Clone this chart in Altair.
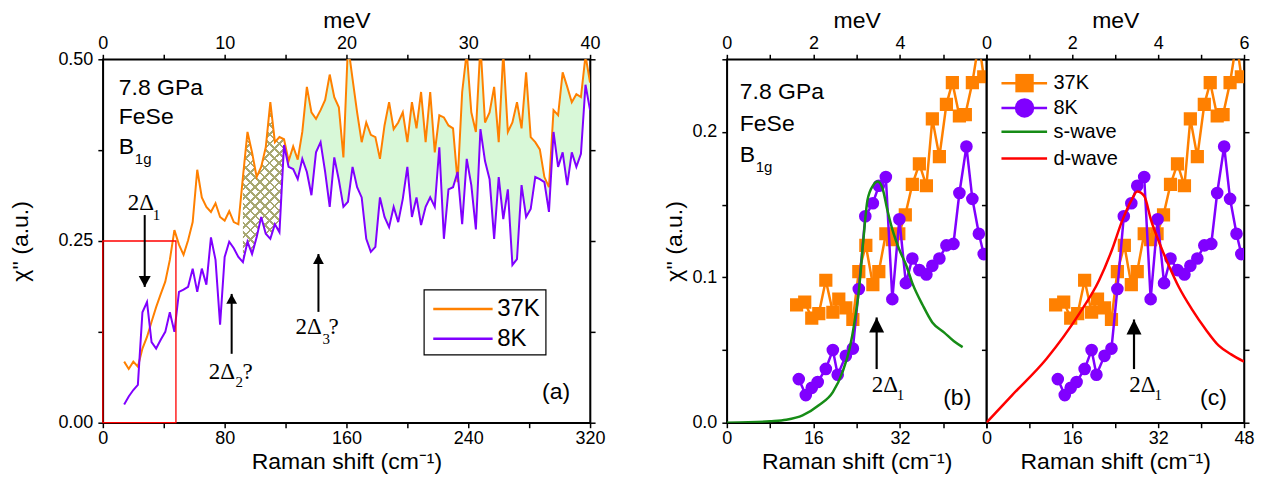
import altair as alt
import pandas as pd

SANS = "Liberation Sans"
SERIF = "Liberation Serif"
ORANGE = "#ff8000"
PURPLE = "#8000ff"
GREEN_FILL = "#d8f8d8"
HATCH = "#a8a872"
SWAVE = "#168c16"
DWAVE = "#ff0000"

# ---------------- panel (a) data ----------------
a_raman = list(range(14, 321, 3))
a_37K = [0.084, 0.074, 0.084, 0.077, 0.102, 0.118, 0.139, 0.159, 0.177, 0.194,
         0.224, 0.265, 0.245, 0.231, 0.251, 0.276, 0.348, 0.310, 0.297, 0.290,
         0.302, 0.283, 0.278, 0.291, 0.276, 0.273, 0.338, 0.400, 0.372, 0.338,
         0.352, 0.379, 0.441, 0.386, 0.393, 0.390, 0.360, 0.380, 0.362, 0.400,
         0.462, 0.427, 0.418, 0.430, 0.444, 0.479, 0.448, 0.434, 0.365, 0.520,
         0.473, 0.427, 0.386, 0.413, 0.396, 0.393, 0.363, 0.409, 0.441, 0.404,
         0.413, 0.427, 0.386, 0.441, 0.405, 0.455, 0.386, 0.455, 0.372, 0.423,
         0.420, 0.409, 0.405, 0.331, 0.455, 0.510, 0.427, 0.400, 0.520, 0.413,
         0.427, 0.462, 0.386, 0.510, 0.400, 0.413, 0.441, 0.405, 0.482, 0.393,
         0.386, 0.376, 0.338, 0.324, 0.430, 0.423, 0.482, 0.462, 0.441, 0.452,
         0.448, 0.505, 0.468]
a_8K = [0.025, 0.036, 0.045, 0.052, 0.152, 0.166, 0.111, 0.102, 0.114, 0.125,
        0.152, 0.125, 0.180, 0.183, 0.187, 0.212, 0.180, 0.212, 0.190, 0.255,
        0.224, 0.135, 0.228, 0.249, 0.240, 0.228, 0.221, 0.249, 0.232, 0.255,
        0.283, 0.260, 0.253, 0.273, 0.262, 0.382, 0.352, 0.349, 0.335, 0.363,
        0.345, 0.313, 0.372, 0.386, 0.345, 0.297, 0.365, 0.334, 0.297, 0.304,
        0.352, 0.324, 0.310, 0.253, 0.235, 0.242, 0.310, 0.283, 0.269, 0.297,
        0.276, 0.308, 0.352, 0.283, 0.310, 0.272, 0.297, 0.310, 0.297, 0.379,
        0.253, 0.321, 0.324, 0.345, 0.273, 0.363, 0.327, 0.266, 0.404, 0.360,
        0.335, 0.253, 0.338, 0.280, 0.321, 0.217, 0.225, 0.327, 0.283, 0.294,
        0.338, 0.335, 0.331, 0.290, 0.400, 0.352, 0.372, 0.327, 0.372, 0.352,
        0.370, 0.465, 0.430]
a_hatch_range = [92, 119]
a_green_range = [119, 320]
a_box_x = [0, 48]
a_box_y = [0, 0.25]
a_xticks = [0, 40, 80, 120, 160, 200, 240, 280, 320]
a_mev_ticks = [0, 5, 10, 15, 20, 25, 30, 35, 40]
a_yticks = [0, 0.125, 0.25, 0.375, 0.5]

a_info_text = ["7.8 GPa", "FeSe", "B"]
a_info_x = [10.5, 10.5, 10.5]
a_info_y = [0.4505, 0.4107, 0.3695]
a_info_sub = ["1g"]
a_info_sub_x = [21.0]
a_info_sub_y = [0.3558]

a_gap_x = [16.4, 69.5, 126.6]
a_gap_y = [0.2926, 0.0604, 0.1223]
a_gap_sub = ["1", "2", "3"]
a_gap_sub_x = [32.8, 87.2, 144.3]
a_gap_sub_y = [0.279, 0.0494, 0.1085]
a_q_x = [91.8, 148.2]
a_q_y = [0.0604, 0.1223]

a_arrow_x = [27.5, 84.6, 141.6]
a_arrow_tail = [0.2857, 0.0948, 0.1525]
a_arrow_tip = [0.1868, 0.1772, 0.2321]
a_arrow_dir = ["down", "up", "up"]

a_leg_box_x = [211, 291]
a_leg_box_y = [0.0934, 0.1827]
a_leg_labels = ["37K", "8K"]
a_leg_colors = [ORANGE, PURPLE]
a_leg_line_x = [217, 256]
a_leg_y = [0.1566, 0.1154]
a_leg_text_x = 259
a_panel_label = ["(a)"]
a_panel_xy = [306.9, 0.033]

# ---------------- panels (b), (c) data ----------------
bc_37K_x = [12.9, 14.4, 15.7, 17.0, 18.3, 19.6, 20.7, 22.0, 23.3, 24.4, 25.7, 27.0, 28.1, 29.4, 30.6,
            31.8, 33.0, 34.3, 35.6, 36.9, 38.0, 39.3, 40.6, 41.7, 43.0, 44.1, 45.4, 46.6, 47.5]
bc_37K = [0.081, 0.083, 0.072, 0.075, 0.098, 0.076, 0.085, 0.079, 0.071, 0.104, 0.122, 0.095, 0.104,
          0.130, 0.126, 0.130, 0.143, 0.164, 0.178, 0.163, 0.209, 0.183, 0.219, 0.234, 0.211, 0.212,
          0.234, 0.262, 0.238]
bc_8K_x = [13.3, 14.6, 15.7, 16.8, 18.3, 19.6, 20.5, 22.0, 23.3, 24.4, 25.6, 27.0, 28.1, 29.4, 30.6,
           31.9, 33.1, 34.3, 35.6, 36.9, 38.0, 39.3, 40.6, 41.9, 43.0, 44.3, 45.4, 46.6, 47.5]
bc_8K = [0.030, 0.019, 0.024, 0.028, 0.037, 0.050, 0.033, 0.046, 0.051, 0.092, 0.142, 0.151, 0.163,
         0.169, 0.085, 0.140, 0.096, 0.113, 0.105, 0.102, 0.108, 0.113, 0.122, 0.123, 0.158, 0.190,
         0.154, 0.130, 0.116]
swave_x = [0, 4, 8, 11, 14, 17, 19.6, 21.4, 22.7, 23.6, 24.5, 25.2, 26.0, 27.0, 27.9, 28.8, 29.7,
           30.6, 31.9, 33.2, 34.3, 36.2, 38.0, 40.2, 42.0, 43.6]
swave_y = [0, 0.0003, 0.001, 0.002, 0.005, 0.012, 0.021, 0.035, 0.051, 0.069, 0.094, 0.124, 0.153,
           0.163, 0.166, 0.161, 0.146, 0.133, 0.119, 0.108, 0.096, 0.081, 0.069, 0.062, 0.056, 0.052]
dwave_x = [0, 4.8, 11.2, 17.3, 21.0, 23.4, 25.3, 27.0, 28.1, 29.4, 30.7, 32.2, 34.0, 35.9, 38.3,
           40.9, 43.3, 45.6, 48.0]
dwave_y = [0, 0.019, 0.044, 0.075, 0.098, 0.119, 0.139, 0.153, 0.159, 0.156, 0.139, 0.124, 0.108,
           0.093, 0.078, 0.064, 0.053, 0.047, 0.042]
bc_xticks = [0, 8, 16, 24, 32, 40, 48]
bc_mev_ticks = [0, 1, 2, 3, 4, 5, 6]
bc_yticks = [0, 0.05, 0.1, 0.15, 0.2, 0.25]

b_info_x = [2.4, 2.4, 2.4]
b_info_y = [0.2227, 0.2008, 0.1796]
b_info_sub_x = [5.35]
b_info_sub_y = [0.1728]
b_arrow = [27.7, 0.0369, 0.0724]
b_gap_xy = [26.8, 0.0212]
b_gap_sub_xy = [31.4, 0.0157]
b_panel_xy = [45.2, 0.0123]

c_arrow = [27.5, 0.0369, 0.071]
c_gap_xy = [26.6, 0.0212]
c_gap_sub_xy = [31.3, 0.0157]
c_panel_xy = [44.8, 0.0123]
c_leg_labels = ["37K", "8K", "s-wave", "d-wave"]
c_leg_colors = [ORANGE, PURPLE, SWAVE, DWAVE]
c_leg_y = [0.2336, 0.2165, 0.2001, 0.1817]
c_leg_line_x = [2.8, 11.3]
c_leg_marker_x = 7.1
c_leg_text_x = 12.5

# ---------------- helpers ----------------
DOWN_HEAD = "M0,0L-0.6,-1.1L0.6,-1.1Z"
UP_HEAD = "M0,0L-0.6,1.1L0.6,1.1Z"
UP_HEAD_B = "M0,0L-0.6,1.2L0.6,1.2Z"


def make_enc(channel, domain, axis):
    scale = alt.Scale(domain=domain, nice=False, zero=False)
    def f(field):
        if channel == "x":
            return alt.X(field, type="quantitative", scale=scale, axis=axis)
        return alt.Y(field, type="quantitative", scale=scale, axis=axis)
    return f


def stripes(x1, y1, x2, y2, n=21, frac=0.28):
    stops = []
    clear = "rgba(255,255,255,0)"
    for i in range(n):
        a = i / n
        b = (i + frac) / n
        c = (i + 1) / n
        stops += [alt.GradientStop(offset=a, color=HATCH), alt.GradientStop(offset=b, color=HATCH),
                  alt.GradientStop(offset=b, color=clear), alt.GradientStop(offset=c, color=clear)]
    return alt.LinearGradient(gradient="linear", stops=stops, x1=x1, y1=y1, x2=x2, y2=y2)


def text_layer(xs, ys, texts, xf, yf, size, font=SANS, align="left", baseline="alphabetic"):
    df = pd.DataFrame({"x": xs, "y": ys, "t": texts})
    return alt.Chart(df).mark_text(font=font, fontSize=size, align=align, baseline=baseline,
                                   color="black").encode(x=xf("x"), y=yf("y"), text="t:N")


# ---------------- panel (a) ----------------
xa = make_enc("x", [0, 320], alt.Axis(values=a_xticks, format="d",
              labelExpr="datum.value % 80 == 0 ? datum.label : ''",
              title="Raman shift (cm⁻¹)", labelPadding=2, titlePadding=3))
ya = make_enc("y", [0, 0.5], alt.Axis(values=a_yticks, format=".2f",
              labelExpr="round(datum.value * 1000) % 250 == 0 ? datum.label : ''",
              title="χ'' (a.u.)", labelPadding=5, titlePadding=25))

df_a = pd.DataFrame({"raman": a_raman, "T37": a_37K, "T8": a_8K})
base_a = alt.Chart(df_a)
green = base_a.transform_filter(
    (alt.datum.raman >= a_green_range[0]) & (alt.datum.raman <= a_green_range[1])
).mark_area(color=GREEN_FILL, opacity=1, clip=True).encode(x=xa("raman"), y=ya("T37"), y2="T8")
hatch_sel = (alt.datum.raman >= a_hatch_range[0]) & (alt.datum.raman <= a_hatch_range[1])
hatch1 = base_a.transform_filter(hatch_sel).mark_area(
    fill=stripes(0, 0, 0.302, 1.179), clip=True).encode(x=xa("raman"), y=ya("T37"), y2="T8")
hatch2 = base_a.transform_filter(hatch_sel).mark_area(
    fill=stripes(0, 1, 0.302, -0.179), clip=True).encode(x=xa("raman"), y=ya("T37"), y2="T8")
line37 = base_a.mark_line(color=ORANGE, strokeWidth=2, clip=True).encode(x=xa("raman"), y=ya("T37"))
line8 = base_a.mark_line(color=PURPLE, strokeWidth=2, clip=True).encode(x=xa("raman"), y=ya("T8"))

box_df = pd.DataFrame({"x0": [a_box_x[0]], "x1": [a_box_x[1]], "y0": [a_box_y[0]], "y1": [a_box_y[1]]})
red_box = alt.Chart(box_df).mark_rect(filled=False, color="red", strokeWidth=1.3).encode(
    x=xa("x0"), x2="x1", y=ya("y0"), y2="y1")

legbox_df = pd.DataFrame({"x0": [a_leg_box_x[0]], "x1": [a_leg_box_x[1]],
                          "y0": [a_leg_box_y[0]], "y1": [a_leg_box_y[1]]})
leg_box = alt.Chart(legbox_df).mark_rect(filled=False, color="black", strokeWidth=1.2).encode(
    x=xa("x0"), x2="x1", y=ya("y0"), y2="y1")
legline_df = pd.DataFrame({"x0": [a_leg_line_x[0]] * 2, "x1": [a_leg_line_x[1]] * 2,
                           "y": a_leg_y, "c": a_leg_colors})
leg_lines = alt.Chart(legline_df).mark_rule(strokeWidth=2.5).encode(
    x=xa("x0"), x2="x1", y=ya("y"), color=alt.Color("c:N", scale=None))
leg_text = text_layer([a_leg_text_x] * 2, a_leg_y, a_leg_labels, xa, ya, 24, baseline="middle")

arr_df = pd.DataFrame({"x": a_arrow_x, "tail": a_arrow_tail, "tip": a_arrow_tip, "d": a_arrow_dir})
arr_rule = alt.Chart(arr_df).mark_rule(color="black", strokeWidth=2).encode(
    x=xa("x"), y=ya("tail"), y2="tip")
arr_down = alt.Chart(arr_df).transform_filter(alt.datum.d == "down").mark_point(
    shape=DOWN_HEAD, filled=True, size=400, color="black", opacity=1, strokeWidth=0).encode(
    x=xa("x"), y=ya("tip"))
arr_up = alt.Chart(arr_df).transform_filter(alt.datum.d == "up").mark_point(
    shape=UP_HEAD, filled=True, size=324, color="black", opacity=1, strokeWidth=0).encode(
    x=xa("x"), y=ya("tip"))

info_a = text_layer(a_info_x, a_info_y, a_info_text, xa, ya, 23)
info_a_sub = text_layer(a_info_sub_x, a_info_sub_y, a_info_sub, xa, ya, 15)
gap_a = text_layer(a_gap_x, a_gap_y, ["2Δ"] * 3, xa, ya, 23, font=SERIF)
gap_a_sub = text_layer(a_gap_sub_x, a_gap_sub_y, a_gap_sub, xa, ya, 15, font=SERIF)
q_a = text_layer(a_q_x, a_q_y, ["?"] * 2, xa, ya, 23, font=SERIF)
lbl_a = text_layer([a_panel_xy[0]], [a_panel_xy[1]], a_panel_label, xa, ya, 23, align="right")

inner_a = alt.layer(green, hatch1, hatch2, line37, line8, red_box, leg_box, leg_lines, leg_text,
                    arr_rule, arr_down, arr_up, info_a, info_a_sub, gap_a, gap_a_sub, q_a, lbl_a)
top_a = alt.Chart(pd.DataFrame({"mev": a_mev_ticks})).mark_point(opacity=0).encode(
    x=alt.X("mev:Q", scale=alt.Scale(domain=[0, 40], nice=False, zero=False),
            axis=alt.Axis(orient="top", values=a_mev_ticks,
                          labelExpr="datum.value % 10 == 0 ? datum.label : ''",
                          title="meV", labelPadding=2, titlePadding=2)))
right_a = alt.Chart(pd.DataFrame({"v": a_yticks})).mark_point(opacity=0).encode(
    y=alt.Y("v:Q", scale=alt.Scale(domain=[0, 0.5], nice=False, zero=False),
            axis=alt.Axis(orient="right", values=a_yticks, labels=False, title="")))
panel_a = alt.layer(inner_a, top_a, right_a).resolve_scale(x="independent", y="independent").properties(
    width=488, height=364)

# ---------------- panels (b), (c) ----------------
df37 = pd.DataFrame({"x": bc_37K_x, "y": bc_37K})
df8 = pd.DataFrame({"x": bc_8K_x, "y": bc_8K})
dfs = pd.DataFrame({"x": swave_x, "y": swave_y})
dfd = pd.DataFrame({"x": dwave_x, "y": dwave_y})


def data_layers(xf, yf):
    l37 = alt.Chart(df37).mark_line(color=ORANGE, strokeWidth=2.5, clip=True).encode(x=xf("x"), y=yf("y"))
    p37 = alt.Chart(df37).mark_point(shape="square", filled=True, size=175, color=ORANGE, opacity=1,
                                     clip=True).encode(x=xf("x"), y=yf("y"))
    l8 = alt.Chart(df8).mark_line(color=PURPLE, strokeWidth=2.5, clip=True).encode(x=xf("x"), y=yf("y"))
    p8 = alt.Chart(df8).mark_point(shape="circle", filled=True, size=160, color=PURPLE, opacity=1,
                                   clip=True).encode(x=xf("x"), y=yf("y"))
    return [l37, p37, l8, p8]


def arrow_layers(xf, yf, arrow):
    df = pd.DataFrame({"x": [arrow[0]], "tail": [arrow[1]], "tip": [arrow[2]]})
    r = alt.Chart(df).mark_rule(color="black", strokeWidth=2.2).encode(x=xf("x"), y=yf("tail"), y2="tip")
    h = alt.Chart(df).mark_point(shape=UP_HEAD_B, filled=True, size=625, color="black", opacity=1,
                                 strokeWidth=0).encode(x=xf("x"), y=yf("tip"))
    return [r, h]


def top_axis(label_expr):
    return alt.Chart(pd.DataFrame({"mev": bc_mev_ticks})).mark_point(opacity=0).encode(
        x=alt.X("mev:Q", scale=alt.Scale(domain=[0, 6], nice=False, zero=False),
                axis=alt.Axis(orient="top", values=bc_mev_ticks, labelExpr=label_expr,
                              title="meV", labelPadding=2, titlePadding=2)))


xb = make_enc("x", [0, 48], alt.Axis(values=bc_xticks, format="d",
              labelExpr="datum.value % 16 == 0 && datum.value < 48 ? datum.label : ''",
              title="Raman shift (cm⁻¹)", labelPadding=2, titlePadding=3))
yb = make_enc("y", [0, 0.25], alt.Axis(values=bc_yticks, format=".1f",
              labelExpr="round(datum.value * 100) % 10 == 0 && datum.value < 0.24 ? datum.label : ''",
              title="χ'' (a.u.)", labelPadding=5, titlePadding=5))

s_line = alt.Chart(dfs).mark_line(color=SWAVE, strokeWidth=2.5, interpolate="monotone", clip=True).encode(
    x=xb("x"), y=yb("y"))
inner_b = alt.layer(
    *data_layers(xb, yb), s_line, *arrow_layers(xb, yb, b_arrow),
    text_layer(b_info_x, b_info_y, a_info_text, xb, yb, 23),
    text_layer(b_info_sub_x, b_info_sub_y, a_info_sub, xb, yb, 15),
    text_layer([b_gap_xy[0]], [b_gap_xy[1]], ["2Δ"], xb, yb, 23, font=SERIF),
    text_layer([b_gap_sub_xy[0]], [b_gap_sub_xy[1]], ["1"], xb, yb, 15, font=SERIF),
    text_layer([b_panel_xy[0]], [b_panel_xy[1]], ["(b)"], xb, yb, 23, align="right"),
)
panel_b = alt.layer(inner_b, top_axis("datum.value % 2 == 0 && datum.value < 6 ? datum.label : ''")
                    ).resolve_scale(x="independent").properties(width=260, height=364)

xc = make_enc("x", [0, 48], alt.Axis(values=bc_xticks, format="d",
              labelExpr="datum.value % 16 == 0 ? datum.label : ''",
              title="Raman shift (cm⁻¹)", labelPadding=2, titlePadding=3))
yc = make_enc("y", [0, 0.25], alt.Axis(values=bc_yticks, labels=False, title=""))

d_line = alt.Chart(dfd).mark_line(color=DWAVE, strokeWidth=2.5, interpolate="monotone", clip=True).encode(
    x=xc("x"), y=yc("y"))
cleg_df = pd.DataFrame({"x0": [c_leg_line_x[0]] * 4, "x1": [c_leg_line_x[1]] * 4, "y": c_leg_y,
                        "c": c_leg_colors})
c_leg_lines = alt.Chart(cleg_df).mark_rule(strokeWidth=2.5).encode(
    x=xc("x0"), x2="x1", y=yc("y"), color=alt.Color("c:N", scale=None))
c_leg_sq = alt.Chart(pd.DataFrame({"x": [c_leg_marker_x], "y": [c_leg_y[0]]})).mark_point(
    shape="square", filled=True, size=340, color=ORANGE, opacity=1).encode(x=xc("x"), y=yc("y"))
c_leg_ci = alt.Chart(pd.DataFrame({"x": [c_leg_marker_x], "y": [c_leg_y[1]]})).mark_point(
    shape="circle", filled=True, size=380, color=PURPLE, opacity=1).encode(x=xc("x"), y=yc("y"))
inner_c = alt.layer(
    *data_layers(xc, yc), d_line, *arrow_layers(xc, yc, c_arrow),
    c_leg_lines, c_leg_sq, c_leg_ci,
    text_layer([c_leg_text_x] * 4, c_leg_y, c_leg_labels, xc, yc, 20, baseline="middle"),
    text_layer([c_gap_xy[0]], [c_gap_xy[1]], ["2Δ"], xc, yc, 23, font=SERIF),
    text_layer([c_gap_sub_xy[0]], [c_gap_sub_xy[1]], ["1"], xc, yc, 15, font=SERIF),
    text_layer([c_panel_xy[0]], [c_panel_xy[1]], ["(c)"], xc, yc, 23, align="right"),
)
right_c = alt.Chart(pd.DataFrame({"v": bc_yticks})).mark_point(opacity=0).encode(
    y=alt.Y("v:Q", scale=alt.Scale(domain=[0, 0.25], nice=False, zero=False),
            axis=alt.Axis(orient="right", values=bc_yticks, labels=False, title="")))
panel_c = alt.layer(inner_c, top_axis("datum.value % 2 == 0 ? datum.label : ''"), right_c
                    ).resolve_scale(x="independent", y="independent").properties(width=258, height=364)

spacer = alt.Chart(pd.DataFrame({"v": [0]})).mark_point(opacity=0).properties(
    width=137, height=364, view=alt.ViewBackground(strokeOpacity=0))

chart = alt.hconcat(panel_a, spacer, panel_b, panel_c, spacing=0, bounds="flush").properties(
    padding={"left": 1, "top": 0, "right": 2, "bottom": 0}
).configure_axis(
    labelFont=SANS, labelFontSize=18, titleFont=SANS, titleFontSize=23, titleFontWeight="normal",
    labelColor="black", titleColor="black", domainColor="black", tickColor="black",
    domainWidth=1.5, tickWidth=1.5, tickSize=5, grid=False, labelFlush=False, labelOverlap=False
).configure_view(stroke="black", strokeWidth=1.5)

chart.save("out.html", embed_options={"renderer": "svg", "actions": False})
